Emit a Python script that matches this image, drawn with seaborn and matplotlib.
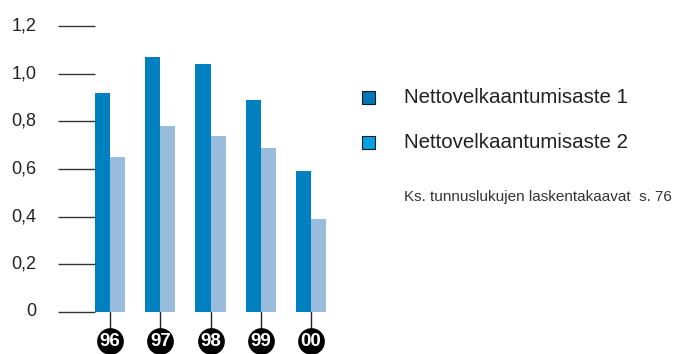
import matplotlib
matplotlib.use("Agg")
import matplotlib.pyplot as plt
from matplotlib.patches import Rectangle
import seaborn as sns
import pandas as pd

years = ["96", "97", "98", "99", "00"]
series_names = ["Nettovelkaantumisaste 1", "Nettovelkaantumisaste 2"]
ratio_1 = [0.92, 1.07, 1.04, 0.89, 0.59]
ratio_2 = [0.65, 0.78, 0.74, 0.69, 0.39]
y_ticks = [0, 0.2, 0.4, 0.6, 0.8, 1.0, 1.2]
y_tick_labels = ["0", "0,2", "0,4", "0,6", "0,8", "1,0", "1,2"]
note = "Ks. tunnuslukujen laskentakaavat  s. 76"

bar_colors = ["#0080BE", "#99BCDD"]
legend_colors = ["#0077B6", "#00A3E0"]
text_color = "#222222"

sns.set_style("white")
plt.rcParams["font.family"] = ["Liberation Sans", "DejaVu Sans"]

df = pd.DataFrame({
    "year": years * 2,
    "value": ratio_1 + ratio_2,
    "series": [series_names[0]] * len(years) + [series_names[1]] * len(years),
})

fig = plt.figure(figsize=(6.87, 3.54), dpi=100)
ax = fig.add_axes([58 / 687, 42 / 354, 272 / 687, 286 / 354])

sns.barplot(data=df, x="year", y="value", hue="series", order=years,
            hue_order=series_names, palette=bar_colors, width=0.6,
            saturation=1, linewidth=0, legend=False, ax=ax)

x_left = -1.035
ax.set_xlim(x_left, 4.378)
ax.set_ylim(0, 1.2)
for s in ax.spines.values():
    s.set_visible(False)
ax.set_xticks([])
ax.set_yticks([])
ax.set_xlabel("")
ax.set_ylabel("")

# short tick rules to the left of the bars, with labels
for v, lab in zip(y_ticks, y_tick_labels):
    ax.plot([x_left, -0.3], [v, v], color="#333333", lw=1.0,
            clip_on=False, solid_capstyle="butt")
    ax.text(x_left - 0.43, v, lab, ha="right", va="center",
            fontsize=13, color=text_color)

# year markers: connector line and black disc with white label
for i, y in enumerate(years):
    ax.plot([i, i], [0, -0.08], color="#222222", lw=1.0, clip_on=False)
    ax.scatter([i], [-0.12], s=370, color="black", zorder=5,
               linewidths=0, clip_on=False)
    ax.text(i, -0.122, y, ha="center", va="center", color="white",
            fontsize=13.5, fontweight="bold", zorder=6, clip_on=False)

# legend drawn in figure pixels
for k, (name, c) in enumerate(zip(series_names, legend_colors)):
    ytop = 91 + k * 45
    fig.patches.append(Rectangle((362 / 687, (354 - ytop - 13) / 354),
                                 13 / 687, 13 / 354, transform=fig.transFigure,
                                 facecolor=c, edgecolor="#1a1a1a", lw=0.8))
    fig.text(404 / 687, (354 - ytop - 6.5) / 354, name, ha="left",
             va="center", fontsize=14.8, color=text_color)

fig.text(404 / 687, (354 - 197) / 354, note, ha="left", va="center",
         fontsize=11, color="#333333")

fig.savefig("out.png", dpi=100)
